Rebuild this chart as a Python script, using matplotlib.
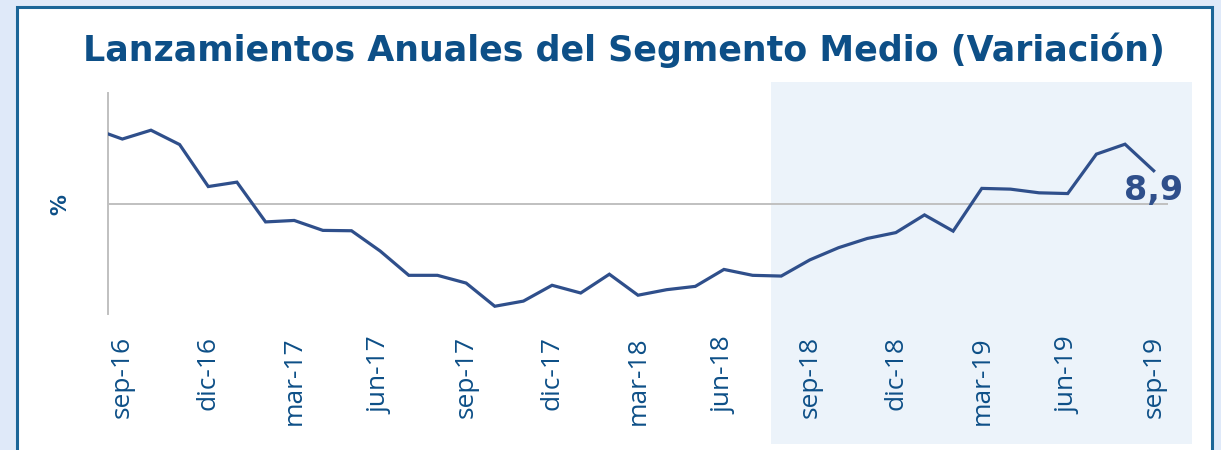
import numpy as np
import matplotlib.pyplot as plt
from matplotlib.patches import Rectangle
from matplotlib import font_manager

# monthly series, ago-16 .. sep-19 (first point only partly visible)
months = ['ago-16', 'sep-16', 'oct-16', 'nov-16', 'dic-16', 'ene-17', 'feb-17',
          'mar-17', 'abr-17', 'may-17', 'jun-17', 'jul-17', 'ago-17', 'sep-17',
          'oct-17', 'nov-17', 'dic-17', 'ene-18', 'feb-18', 'mar-18', 'abr-18',
          'may-18', 'jun-18', 'jul-18', 'ago-18', 'sep-18', 'oct-18', 'nov-18',
          'dic-18', 'ene-19', 'feb-19', 'mar-19', 'abr-19', 'may-19', 'jun-19',
          'jul-19', 'ago-19', 'sep-19']
values = [20.3, 17.5, 19.9, 16.0, 4.6, 5.8, -5.0, -4.6, -7.3, -7.4, -12.9,
          -19.5, -19.5, -21.6, -27.9, -26.5, -22.2, -24.3, -19.2, -24.9, -23.4,
          -22.5, -17.9, -19.5, -19.7, -15.3, -12.0, -9.5, -7.9, -3.1, -7.5,
          4.1, 3.9, 2.9, 2.7, 13.4, 16.1, 8.9]
tick_labels = ['sep-16', 'dic-16', 'mar-17', 'jun-17', 'sep-17', 'dic-17',
               'mar-18', 'jun-18', 'sep-18', 'dic-18', 'mar-19', 'jun-19',
               'sep-19']
last_label = '8,9'
title = 'Lanzamientos Anuales del Segmento Medio (Variación)'

navy = '#0d4f87'
line_col = '#2f4f8b'
grey = '#c0c0c0'


def pick(names):
    have = {f.name for f in font_manager.fontManager.ttflist}
    for n in names:
        if n in have:
            return n
    return 'DejaVu Sans'


title_font = pick(['DejaVu Sans Condensed', 'Liberation Sans Narrow', 'DejaVu Sans'])
tick_font = pick(['Open Sans', 'DejaVu Sans'])

W, H = 1221, 450
fig = plt.figure(figsize=(W / 100, H / 100), dpi=100, facecolor='#dfe9f9')

# white panel with dark blue frame
fig.patches.append(Rectangle((17 / W, -0.05), 1195 / W, 1.05 - 7 / H,
                             transform=fig.transFigure, facecolor='white',
                             edgecolor='#1b6598', lw=2.2, zorder=0))
# shaded forecast area
fig.patches.append(Rectangle((771 / W, 6 / H), 421 / W, 362 / H,
                             transform=fig.transFigure, facecolor='#ecf3fa',
                             edgecolor='none', zorder=0.5))

ax = fig.add_axes([108 / W, (H - 314) / H, 1060 / W, 221 / H], zorder=2)
ax.patch.set_visible(False)

x = np.arange(len(values)) - 1
ax.plot(x, values, color=line_col, lw=2.3, solid_joinstyle='miter', zorder=3)
ax.axhline(0, color=grey, lw=1.4, zorder=2)

ax.set_xlim(-0.5, 36.5)
ax.set_ylim(-30, 30)

ax.set_xticks(np.arange(0, 37, 3))
ax.set_xticklabels(tick_labels, rotation=90, color=navy,
                   fontsize=19, family=tick_font)
ax.tick_params(axis='x', length=0, pad=16)
ax.set_yticks([])

for s in ['top', 'right', 'bottom']:
    ax.spines[s].set_visible(False)
ax.spines['left'].set_color(grey)
ax.spines['left'].set_linewidth(1.4)

ax.text(x[-1], values[-1] - 5.3, last_label, ha='center', va='center',
        fontsize=24, fontweight='bold', color=line_col, family='DejaVu Sans',
        zorder=4)

fig.text(60 / W, (H - 205) / H, '%', rotation=90, ha='center', va='center',
         fontsize=15, fontweight='bold', color=navy)

t = fig.text(624 / W, (H - 50) / H, title, ha='center', va='center',
             fontsize=28, fontweight='bold', color=navy, family=title_font)
# fit title width to the reference
r = fig.canvas.get_renderer()
w = t.get_window_extent(r).width
t.set_fontsize(28 * 1082 / w)

fig.savefig('out.png', dpi=100, facecolor=fig.get_facecolor())
